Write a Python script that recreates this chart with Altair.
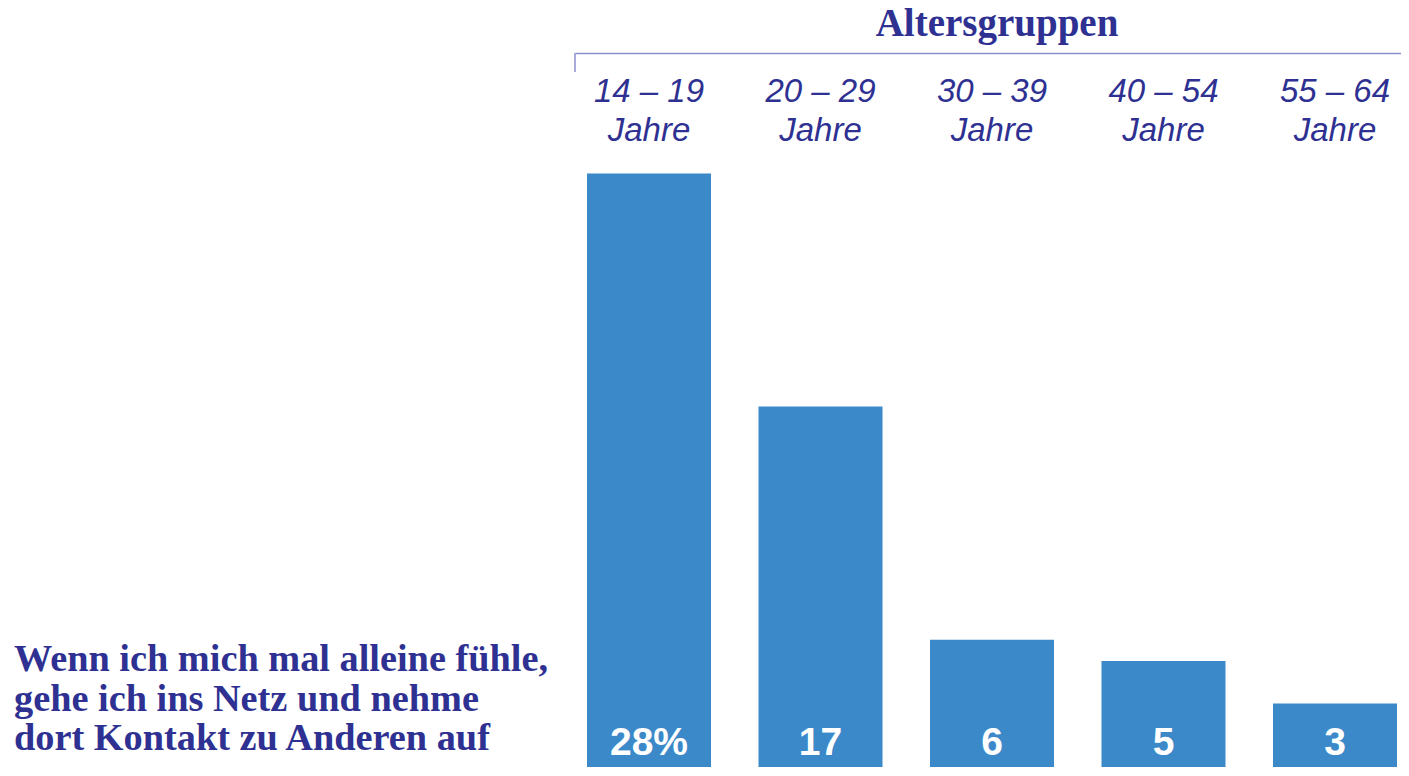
import altair as alt
import pandas as pd

age_ranges = ["14 – 19", "20 – 29", "30 – 39", "40 – 54", "55 – 64"]
shares = [28, 17, 6, 5, 3]
share_labels = ["28%", "17", "6", "5", "3"]
statement = "Wenn ich mich mal alleine fühle,\ngehe ich ins Netz und nehme\ndort Kontakt zu Anderen auf"
title_text = "Altersgruppen"

df = pd.DataFrame({"age": age_ranges, "share": shares, "label": share_labels})

DARK = "#2e3192"
BAR = "#3b89c9"
LINE = "#8c8fd0"

x = alt.X(
    "age:N", sort=age_ranges,
    scale=alt.Scale(paddingInner=0.277, paddingOuter=0.04665, align=0.75),
    axis=alt.Axis(orient="top", title=None, ticks=False, labelAngle=0,
                  labelPadding=-22, labelBaseline="top",
                  labelExpr="[datum.label, 'Jahre']",
                  labelFont="Liberation Sans", labelFontStyle="italic",
                  labelFontSize=33, labelColor=DARK, labelLineHeight=39,
                  domainColor=LINE, domainWidth=1.5),
)
y_scale = alt.Scale(domain=[0, 33.68], nice=False, zero=True)

bars = alt.Chart(df).mark_bar(color=BAR).encode(
    x=x, y=alt.Y("share:Q", scale=y_scale, axis=None))

texts = alt.Chart(df).transform_calculate(base="0").mark_text(
    color="white", font="Liberation Sans", fontWeight="bold", fontSize=39,
    baseline="alphabetic", dy=-12
).encode(x=alt.X("age:N", sort=age_ranges),
         y=alt.Y("base:Q", scale=y_scale, axis=None), text="label:N")

bracket = alt.Chart(alt.Data(values=[{}])).mark_rule(color=LINE, strokeWidth=1.5).encode(
    x=alt.value(0), y=alt.value(0), y2=alt.value(19)
)

title = alt.Chart(alt.Data(values=[{"t": title_text}])).mark_text(
    font="Liberation Serif", fontWeight="bold", fontSize=39, color=DARK,
    align="center", baseline="alphabetic"
).encode(x=alt.value(422), y=alt.value(-17), text="t:N")

note = alt.Chart(alt.Data(values=[{"t": statement}])).mark_text(
    font="Liberation Serif", fontWeight="bold", fontSize=38.3, color=DARK,
    align="left", baseline="alphabetic", lineBreak="\n", lineHeight=39.5
).encode(x=alt.value(-561), y=alt.value(618), text="t:N")

chart = alt.layer(bars, texts, bracket, title, note).properties(
    width=826, height=714,
    padding={"left": 567, "top": 45, "right": 0, "bottom": 0},
    autosize="none",
    background="white",
).configure_view(stroke=None)

chart.save("out.html", embed_options={"renderer": "svg", "actions": False})
